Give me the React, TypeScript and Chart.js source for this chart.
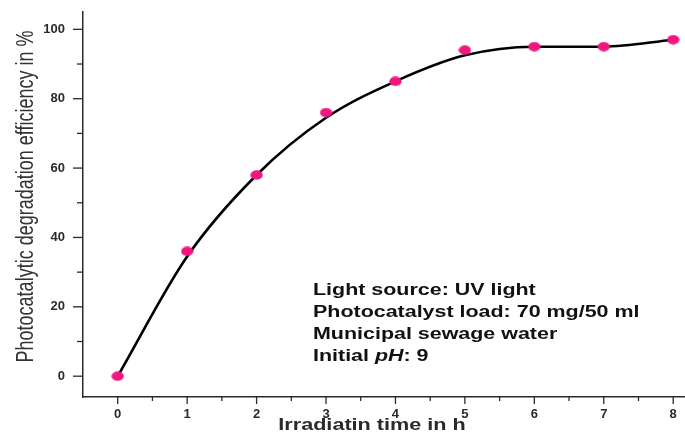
import React, { useEffect, useRef } from "react";
import { Chart, registerables } from "chart.js";

Chart.register(...registerables);

const timeHours = [0, 1, 2, 3, 4, 5, 6, 7, 8];
const efficiencyPoints = [0, 36, 58, 76, 85, 94, 95, 95, 97];
const fittedCurve = [0, 34.5, 58, 74.5, 85, 92.5, 95, 95, 97];

const yMajorTicks = [0, 20, 40, 60, 80, 100];
const yAllTicks = [0, 10, 20, 30, 40, 50, 60, 70, 80, 90, 100];
const xMajorTicks = [0, 1, 2, 3, 4, 5, 6, 7, 8];
const xAllTicks = [0, 0.5, 1, 1.5, 2, 2.5, 3, 3.5, 4, 4.5, 5, 5.5, 6, 6.5, 7, 7.5, 8];
const xRange = [-0.5, 8.17];
const yRange = [-6, 105];

const yTitle = "Photocatalytic degradation efficiency in %";
const xTitle = "Irradiatin time in h";
const noteLines = ["Light source: UV light", "Photocatalyst load: 70 mg/50 ml", "Municipal sewage water"];

const FONT = "'Liberation Sans', Arial, sans-serif";
const AXIS_COLOR = "#2a2a2a";
const STRETCH = 1.33;
const DOT_COLOR = "#f2167f";

function makeDot(): HTMLCanvasElement {
  const c = document.createElement("canvas");
  c.width = 13;
  c.height = 10;
  const g = c.getContext("2d")!;
  g.fillStyle = DOT_COLOR;
  g.beginPath();
  g.ellipse(6.5, 5, 6.2, 4.7, 0, 0, Math.PI * 2);
  g.fill();
  return c;
}

const decorPlugin = {
  id: "decor",
  afterDraw(chart: any) {
    const { ctx, chartArea, scales } = chart;
    const x = scales.x;
    const y = scales.y;
    ctx.save();
    ctx.strokeStyle = AXIS_COLOR;
    ctx.lineWidth = 1.3;
    yAllTicks.forEach((v) => {
      const py = y.getPixelForValue(v);
      const len = v % 20 === 0 ? 10 : 6;
      ctx.beginPath();
      ctx.moveTo(chartArea.left - len, py);
      ctx.lineTo(chartArea.left, py);
      ctx.stroke();
    });
    xAllTicks.forEach((v) => {
      const px = x.getPixelForValue(v);
      const len = Number.isInteger(v) ? 7 : 4;
      ctx.beginPath();
      ctx.moveTo(px, chartArea.bottom);
      ctx.lineTo(px, chartArea.bottom + len);
      ctx.stroke();
    });

    ctx.fillStyle = AXIS_COLOR;
    ctx.textBaseline = "middle";
    ctx.save();
    ctx.translate(372, 425);
    ctx.scale(1.31, 1);
    ctx.font = `bold 16.5px ${FONT}`;
    ctx.textAlign = "center";
    ctx.fillText(xTitle, 0, 0);
    ctx.restore();

    ctx.save();
    ctx.translate(26, (chartArea.top + chartArea.bottom) / 2 - 8);
    ctx.rotate(-Math.PI / 2);
    ctx.scale(1, STRETCH);
    ctx.font = `18px ${FONT}`;
    ctx.textAlign = "center";
    ctx.fillStyle = "#333";
    ctx.fillText(yTitle, 0, 0);
    ctx.restore();

    ctx.save();
    const left = 313;
    const top = 291;
    const step = 21.7;
    ctx.translate(left, 0);
    ctx.scale(1.34, 1);
    ctx.fillStyle = "#111";
    ctx.textAlign = "left";
    ctx.font = `bold 16px ${FONT}`;
    noteLines.forEach((t, i) => {
      ctx.fillText(t, 0, top + i * step);
    });
    const y4 = top + 3 * step;
    const p1 = "Initial ";
    ctx.fillText(p1, 0, y4);
    let cx = ctx.measureText(p1).width;
    ctx.font = `italic bold 16px ${FONT}`;
    ctx.fillText("pH", cx, y4);
    cx += ctx.measureText("pH").width;
    ctx.font = `bold 16px ${FONT}`;
    ctx.fillText(": 9", cx, y4);
    ctx.restore();
    ctx.restore();
  },
};

export default function App() {
  const ref = useRef<HTMLCanvasElement>(null);

  useEffect(() => {
    if (!ref.current) return;
    const dot = makeDot();
    const chart = new Chart(ref.current, {
      type: "scatter",
      data: {
        datasets: [
          {
            label: "Measured",
            data: timeHours.map((t, i) => ({ x: t, y: efficiencyPoints[i] })),
            backgroundColor: DOT_COLOR,
            borderColor: DOT_COLOR,
            pointStyle: dot as any,
            pointRadius: 5,
            pointBorderWidth: 0,
            showLine: false,
          },
          {
            label: "Fit",
            type: "line",
            data: timeHours.map((t, i) => ({ x: t, y: fittedCurve[i] })),
            borderColor: "#000",
            borderWidth: 2.6,
            pointRadius: 0,
            cubicInterpolationMode: "monotone",
            fill: false,
          } as any,
        ],
      },
      plugins: [decorPlugin],
      options: {
        animation: false,
        responsive: false,
        devicePixelRatio: 1,
        layout: { autoPadding: false, padding: { top: 12, right: 0, left: 0, bottom: 0 } },
        plugins: { legend: { display: false }, tooltip: { enabled: false } },
        scales: {
          x: {
            type: "linear",
            bounds: "data",
            min: xRange[0],
            max: xRange[1],
            afterBuildTicks: (s: any) => {
              s.ticks = xMajorTicks.map((v) => ({ value: v }));
              s.min = xRange[0];
              s.max = xRange[1];
            },
            afterFit: (s: any) => {
              s.height = 41;
              s.paddingLeft = 0;
              s.paddingRight = 0;
              s.paddingTop = 0;
              s.paddingBottom = 0;
            },
            grid: { display: true, drawOnChartArea: false, drawTicks: false },
            border: { display: true, color: AXIS_COLOR, width: 1.5 },
            ticks: {
              autoSkip: false,
              maxRotation: 0,
              padding: 10,
              color: AXIS_COLOR,
              font: { family: FONT, size: 13, weight: "bold" },
            },
          },
          y: {
            type: "linear",
            bounds: "data",
            min: yRange[0],
            max: yRange[1],
            afterBuildTicks: (s: any) => {
              s.ticks = yMajorTicks.map((v) => ({ value: v }));
              s.min = yRange[0];
              s.max = yRange[1];
            },
            afterFit: (s: any) => {
              s.width = 83;
              s.paddingLeft = 0;
              s.paddingRight = 0;
              s.paddingTop = 0;
              s.paddingBottom = 0;
            },
            grid: { display: true, drawOnChartArea: false, drawTicks: false },
            border: { display: true, color: AXIS_COLOR, width: 1.5 },
            ticks: {
              autoSkip: false,
              padding: 18,
              color: AXIS_COLOR,
              font: { family: FONT, size: 13, weight: "bold" },
            },
          },
        },
      },
    });
    return () => chart.destroy();
  }, []);

  return (
    <div style={{ position: "absolute", left: 0, top: 0, width: 685, height: 438, background: "#fff" }}>
      <canvas ref={ref} width={685} height={438} />
    </div>
  );
}
